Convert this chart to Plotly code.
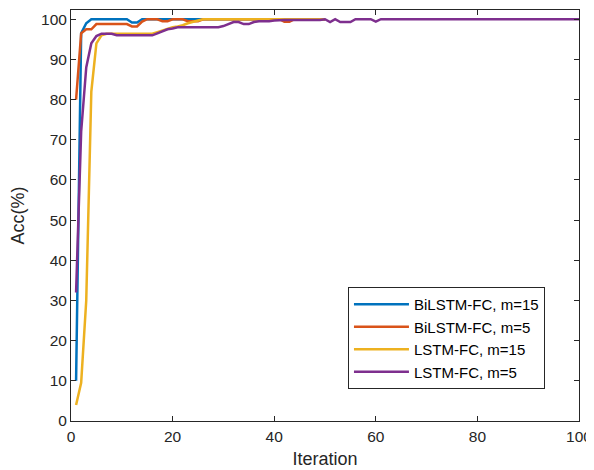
import plotly.graph_objects as go

# Iteration index
iter_short = list(range(1, 51))
iter_long = list(range(1, 101))

bilstm_m15 = [10, 96.5, 99, 100, 100, 100, 100, 100, 100, 100,
              100, 99.2, 99.2, 100, 100, 100, 100, 100, 100, 100,
              100, 100, 100, 100, 100, 100, 100, 100, 100, 100,
              100, 100, 100, 100, 100, 100, 100, 100, 100, 100,
              100, 100, 100, 100, 100, 100, 100, 100, 100, 100]

bilstm_m5 = [80, 96.5, 97.5, 97.5, 98.8, 98.8, 98.8, 98.8, 98.8, 98.8,
             98.8, 98.2, 98.2, 99.4, 100, 100, 100, 99.5, 99.5, 100,
             100, 100, 99.5, 99.5, 99.5, 100, 100, 100, 100, 100,
             100, 100, 100, 100, 100, 100, 100, 100, 100, 100,
             100, 99.4, 99.4, 100, 100, 100, 100, 100, 100, 100]

lstm_m15 = [4, 9.5, 30, 82, 94, 96, 96.4, 96.4, 96.4, 96.4,
            96.4, 96.4, 96.4, 96.4, 96.4, 96.4, 96.8, 97.2, 97.6, 98,
            98.2, 98.5, 99, 99.4, 99.7, 100, 100, 100, 100, 100,
            100, 100, 100, 100, 100, 100, 100, 100, 100, 100,
            100, 100, 100, 100, 100, 100, 100, 100, 100, 100]

lstm_m5 = [32, 72, 88, 94, 95.8, 96.4, 96.4, 96.4, 96, 96,
           96, 96, 96, 96, 96, 96, 96.5, 97, 97.5, 97.7,
           98, 98, 98, 98, 98, 98, 98, 98, 98, 98.3,
           98.9, 99.3, 99.3, 98.8, 98.8, 99.3, 99.5, 99.5, 99.5, 99.7,
           99.8, 99.8, 99.8, 99.8, 99.8, 99.8, 99.8, 99.8, 99.8, 100,
           99.3, 100, 99.3, 99.3, 99.3, 100, 100, 100, 100, 99.4,
           100, 100, 100, 100, 100, 100, 100, 100, 100, 100,
           100, 100, 100, 100, 100, 100, 100, 100, 100, 100,
           100, 100, 100, 100, 100, 100, 100, 100, 100, 100,
           100, 100, 100, 100, 100, 100, 100, 100, 100, 100]

names = ["BiLSTM-FC, m=15", "BiLSTM-FC, m=5", "LSTM-FC, m=15", "LSTM-FC, m=5"]
colors = ["#0072BD", "#D95319", "#EDB120", "#7E2F8E"]
xs = [iter_short, iter_short, iter_short, iter_long]
ys = [bilstm_m15, bilstm_m5, lstm_m15, lstm_m5]

fig = go.Figure()
for n, c, x, y in zip(names, colors, xs, ys):
    fig.add_trace(go.Scatter(x=x, y=y, mode="lines", name=n,
                             line=dict(color=c, width=2.5)))

font_family = "Liberation Sans, Arial, sans-serif"
axis_common = dict(showgrid=False, zeroline=False, showline=True,
                   linecolor="#262626", linewidth=1, mirror="ticks",
                   ticks="inside", ticklen=5, tickcolor="#262626",
                   automargin=False,
                   tickfont=dict(family=font_family, size=15.5, color="#262626"))

fig.update_layout(
    width=594, height=470,
    margin=dict(l=63, r=23, t=2, b=57),
    paper_bgcolor="white", plot_bgcolor="white",
    font=dict(family=font_family, color="#262626"),
    xaxis=dict(range=[0, 100], tickvals=[0, 20, 40, 60, 80, 100],
               ticklabelstandoff=1,
               title=dict(text="Iteration", font=dict(size=18), standoff=8),
               **axis_common),
    yaxis=dict(range=[0, 102.3], tickvals=list(range(0, 101, 10)),
               title=dict(text="Acc(%)", font=dict(size=18), standoff=12),
               **axis_common),
    legend=dict(x=0.933, y=0.078, xanchor="right", yanchor="bottom",
                bgcolor="white", bordercolor="#262626", borderwidth=1,
                font=dict(family=font_family, size=15, color="#000000"),
                itemwidth=55),
    showlegend=True,
)

fig.write_html("out.html")
